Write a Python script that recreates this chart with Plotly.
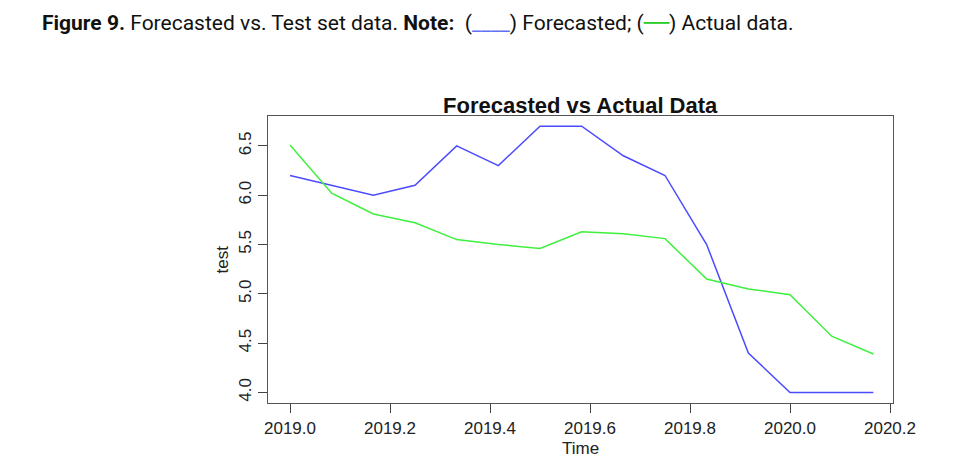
import plotly.graph_objects as go

time = [2019.0000, 2019.0833, 2019.1667, 2019.2500, 2019.3333, 2019.4167, 2019.5000,
        2019.5833, 2019.6667, 2019.7500, 2019.8333, 2019.9167, 2020.0000, 2020.0833, 2020.1667]
forecasted = [6.2, 6.1, 6.0, 6.1, 6.5, 6.3, 6.7, 6.7, 6.4, 6.2, 5.5, 4.4, 4.0, 4.0, 4.0]
actual = [6.51, 6.02, 5.81, 5.72, 5.55, 5.50, 5.46, 5.63, 5.61, 5.56, 5.15, 5.05, 4.99, 4.57, 4.39]

x_ticks = [2019.0, 2019.2, 2019.4, 2019.6, 2019.8, 2020.0, 2020.2]
y_ticks = [4.0, 4.5, 5.0, 5.5, 6.0, 6.5]

W, H = 966, 464
L, R, T, B = 268, 893, 116, 403

fig = go.Figure()
fig.add_trace(go.Scatter(x=time, y=forecasted, mode="lines",
                         line=dict(color="#4b4bff", width=1.5), name="Forecasted"))
fig.add_trace(go.Scatter(x=time, y=actual, mode="lines",
                         line=dict(color="#3ef03e", width=1.5), name="Actual"))

axis_font = dict(family="Liberation Sans, Arial, sans-serif", size=17, color="#222")

fig.update_layout(
    width=W, height=H,
    margin=dict(l=L, r=W - R, t=T, b=H - B, pad=0),
    paper_bgcolor="white", plot_bgcolor="white",
    showlegend=False,
    title=dict(
        text=("<b>Figure 9.</b> Forecasted vs. Test set data. <b>Note:</b>  "
              "(<span style='color:#6070f0'>____</span>) Forecasted; "
              "(<span style='color:#22cc22;font-family:DejaVu Sans'>──</span>) Actual data."),
        x=42 / W, xanchor="left", xref="container",
        y=1 - 23 / H, yanchor="middle", yref="container",
        font=dict(family="Roboto, Liberation Sans, Arial, sans-serif",
                  size=21, color="#111"),
    ),
    xaxis=dict(
        range=[2018.956, 2020.206], tickvals=x_ticks, tickformat=".1f",
        showgrid=False, zeroline=False,
        showline=True, linecolor="#555", linewidth=1.3, mirror=True,
        ticks="outside", ticklen=9, tickcolor="#444", tickwidth=1.2,
        tickfont=axis_font,
    ),
    yaxis=dict(
        range=[3.893, 6.803], tickvals=y_ticks, tickformat=".1f",
        showgrid=False, zeroline=False,
        showline=True, linecolor="#555", linewidth=1.3, mirror=True,
        ticks="outside", ticklen=9, tickcolor="#444", tickwidth=1.2,
        tickangle=-90, tickfont=axis_font,
    ),
)

pw, ph = R - L, B - T
fig.add_annotation(text="<b>Forecasted vs Actual Data</b>", xref="paper", yref="paper",
                   x=0.5, y=1, xanchor="center", yanchor="middle", yshift=11,
                   showarrow=False,
                   font=dict(family="Liberation Sans, Arial, sans-serif", size=22, color="#111"))
fig.add_annotation(text="test", xref="paper", yref="paper",
                   x=(222 - L) / pw, y=0.5, xanchor="center", yanchor="middle",
                   textangle=-90, showarrow=False, font=axis_font)
fig.add_annotation(text="Time", xref="paper", yref="paper",
                   x=0.5, y=(B - 448) / ph, xanchor="center", yanchor="middle",
                   showarrow=False, font=axis_font)

fig.write_html("out.html", config={"displayModeBar": False},
               post_script="document.body.style.margin='0';document.body.style.overflow='hidden';")
